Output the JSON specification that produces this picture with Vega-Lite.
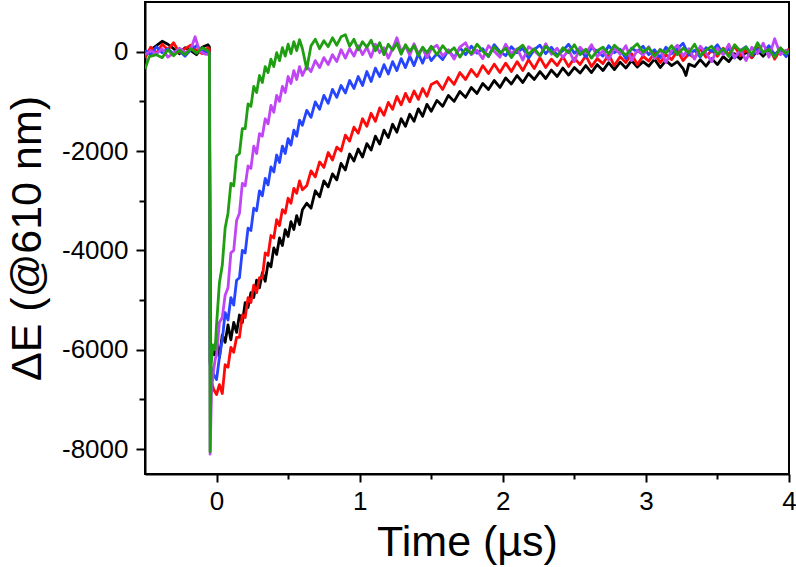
{
  "$schema": "https://vega.github.io/schema/vega-lite/v6.json",
  "width": 644,
  "height": 472,
  "autosize": {"type": "none"},
  "padding": {"left": 145, "top": 2, "right": 7, "bottom": 93},
  "background": "white",
  "config": {
    "font": "Liberation Sans",
    "view": {"stroke": "black", "strokeWidth": 2},
    "axis": {"grid": false, "domainColor": "black", "domainWidth": 2, "tickColor": "black", "tickWidth": 2, "labelColor": "black", "titleColor": "black", "titleFontWeight": "normal", "labelFont": "Liberation Sans", "titleFont": "Liberation Sans"}
  },
  "datasets": {
    "black": [
      {"time":-0.5,"dE":-80},{"time":-0.46,"dE":40},{"time":-0.42,"dE":120},{"time":-0.38,"dE":210},{"time":-0.34,"dE":150},{"time":-0.3,"dE":60},{"time":-0.26,"dE":-40},{"time":-0.22,"dE":80},{"time":-0.18,"dE":20},{"time":-0.14,"dE":-60},{"time":-0.1,"dE":90},{"time":-0.06,"dE":140},{"time":-0.05,"dE":100},{"time":-0.045,"dE":-6250},{"time":-0.03,"dE":-5950},{"time":-0.015,"dE":-6100},
      {"time":0,"dE":-5800},{"time":0.02,"dE":-6150},{"time":0.04,"dE":-5700},{"time":0.06,"dE":-5850},{"time":0.08,"dE":-5500},{"time":0.1,"dE":-5800},{"time":0.12,"dE":-5450},{"time":0.14,"dE":-5650},{"time":0.16,"dE":-5300},{"time":0.18,"dE":-5450},{"time":0.2,"dE":-5050},{"time":0.22,"dE":-5150},{"time":0.24,"dE":-4850},{"time":0.26,"dE":-4950},{"time":0.28,"dE":-4600},{"time":0.3,"dE":-4750},{"time":0.32,"dE":-4450},{"time":0.34,"dE":-4620},{"time":0.36,"dE":-4250},{"time":0.38,"dE":-4330},{"time":0.4,"dE":-3950},{"time":0.42,"dE":-4080},{"time":0.44,"dE":-3750},{"time":0.46,"dE":-3900},{"time":0.48,"dE":-3580},{"time":0.5,"dE":-3720},{"time":0.52,"dE":-3420},{"time":0.54,"dE":-3580},{"time":0.56,"dE":-3300},{"time":0.58,"dE":-3480},{"time":0.6,"dE":-3180},
      {"time":0.63,"dE":-3050},{"time":0.66,"dE":-3150},{"time":0.69,"dE":-2800},{"time":0.72,"dE":-2920},{"time":0.75,"dE":-2600},{"time":0.78,"dE":-2720},{"time":0.81,"dE":-2460},{"time":0.84,"dE":-2580},{"time":0.87,"dE":-2250},{"time":0.9,"dE":-2380},{"time":0.93,"dE":-2060},{"time":0.96,"dE":-2200},{"time":0.99,"dE":-1960},{"time":1.02,"dE":-2120},{"time":1.05,"dE":-1850},{"time":1.08,"dE":-1980},{"time":1.11,"dE":-1700},{"time":1.14,"dE":-1860},{"time":1.17,"dE":-1580},{"time":1.2,"dE":-1730},{"time":1.23,"dE":-1460},{"time":1.26,"dE":-1620},{"time":1.29,"dE":-1350},{"time":1.32,"dE":-1500},{"time":1.35,"dE":-1260},{"time":1.38,"dE":-1400},{"time":1.41,"dE":-1150},{"time":1.44,"dE":-1300},{"time":1.47,"dE":-1060},{"time":1.5,"dE":-1200},
      {"time":1.54,"dE":-980},{"time":1.58,"dE":-1100},{"time":1.62,"dE":-880},{"time":1.66,"dE":-1000},{"time":1.7,"dE":-800},{"time":1.74,"dE":-920},{"time":1.78,"dE":-720},{"time":1.82,"dE":-840},{"time":1.86,"dE":-640},{"time":1.9,"dE":-760},{"time":1.94,"dE":-580},{"time":1.98,"dE":-720},{"time":2.02,"dE":-530},{"time":2.06,"dE":-650},{"time":2.1,"dE":-480},{"time":2.14,"dE":-620},{"time":2.18,"dE":-440},{"time":2.22,"dE":-560},{"time":2.26,"dE":-400},{"time":2.3,"dE":-540},{"time":2.34,"dE":-370},{"time":2.38,"dE":-500},{"time":2.42,"dE":-330},{"time":2.46,"dE":-470},{"time":2.5,"dE":-320},{"time":2.54,"dE":-430},{"time":2.58,"dE":-280},{"time":2.62,"dE":-420},{"time":2.66,"dE":-260},{"time":2.7,"dE":-380},{"time":2.74,"dE":-220},{"time":2.78,"dE":-360},{"time":2.82,"dE":-210},{"time":2.86,"dE":-330},{"time":2.9,"dE":-180},{"time":2.94,"dE":-310},{"time":2.98,"dE":-200},{"time":3.02,"dE":-290},{"time":3.06,"dE":-150},{"time":3.1,"dE":-320},{"time":3.14,"dE":-180},{"time":3.18,"dE":-280},{"time":3.22,"dE":-200},{"time":3.26,"dE":-340},{"time":3.28,"dE":-480},{"time":3.3,"dE":-250},{"time":3.34,"dE":-300},{"time":3.38,"dE":-160},{"time":3.42,"dE":-290},{"time":3.46,"dE":-140},{"time":3.5,"dE":-260},{"time":3.54,"dE":-100},{"time":3.58,"dE":-200},{"time":3.62,"dE":-40},{"time":3.66,"dE":-150},{"time":3.7,"dE":0},{"time":3.74,"dE":-120},{"time":3.78,"dE":30},{"time":3.82,"dE":-90},{"time":3.86,"dE":40},{"time":3.9,"dE":-70},{"time":3.94,"dE":60},{"time":3.98,"dE":-50},{"time":4.0,"dE":10}
    ],
    "red": [
      {"time":-0.5,"dE":-120},{"time":-0.46,"dE":90},{"time":-0.42,"dE":-30},{"time":-0.38,"dE":150},{"time":-0.34,"dE":40},{"time":-0.3,"dE":180},{"time":-0.26,"dE":-20},{"time":-0.22,"dE":60},{"time":-0.18,"dE":130},{"time":-0.14,"dE":30},{"time":-0.1,"dE":-40},{"time":-0.06,"dE":80},{"time":-0.05,"dE":50},{"time":-0.04,"dE":-6600},{"time":-0.02,"dE":-6800},
      {"time":0,"dE":-6900},{"time":0.02,"dE":-6700},{"time":0.04,"dE":-6880},{"time":0.06,"dE":-6300},{"time":0.08,"dE":-6350},{"time":0.1,"dE":-5950},{"time":0.12,"dE":-6050},{"time":0.14,"dE":-5750},{"time":0.16,"dE":-5750},{"time":0.18,"dE":-5300},{"time":0.2,"dE":-5350},{"time":0.22,"dE":-4950},{"time":0.24,"dE":-5050},{"time":0.26,"dE":-4700},{"time":0.28,"dE":-4850},{"time":0.3,"dE":-4550},{"time":0.32,"dE":-4550},{"time":0.34,"dE":-4050},{"time":0.36,"dE":-4100},{"time":0.38,"dE":-3700},{"time":0.4,"dE":-3750},{"time":0.42,"dE":-3380},{"time":0.44,"dE":-3500},{"time":0.46,"dE":-3180},{"time":0.48,"dE":-3250},{"time":0.5,"dE":-2950},{"time":0.52,"dE":-3050},{"time":0.54,"dE":-2750},{"time":0.56,"dE":-2850},{"time":0.58,"dE":-2600},{"time":0.6,"dE":-2780},
      {"time":0.63,"dE":-2700},{"time":0.66,"dE":-2400},{"time":0.69,"dE":-2520},{"time":0.72,"dE":-2220},{"time":0.75,"dE":-2330},{"time":0.78,"dE":-2030},{"time":0.81,"dE":-2180},{"time":0.84,"dE":-1920},{"time":0.87,"dE":-2000},{"time":0.9,"dE":-1680},{"time":0.93,"dE":-1800},{"time":0.96,"dE":-1520},{"time":0.99,"dE":-1640},{"time":1.02,"dE":-1350},{"time":1.05,"dE":-1500},{"time":1.08,"dE":-1240},{"time":1.11,"dE":-1400},{"time":1.14,"dE":-1130},{"time":1.17,"dE":-1280},{"time":1.2,"dE":-1020},{"time":1.23,"dE":-1160},{"time":1.26,"dE":-900},{"time":1.29,"dE":-1070},{"time":1.32,"dE":-840},{"time":1.35,"dE":-1010},{"time":1.38,"dE":-790},{"time":1.41,"dE":-960},{"time":1.44,"dE":-740},{"time":1.47,"dE":-900},{"time":1.5,"dE":-660},
      {"time":1.54,"dE":-600},{"time":1.58,"dE":-760},{"time":1.62,"dE":-520},{"time":1.66,"dE":-660},{"time":1.7,"dE":-420},{"time":1.74,"dE":-560},{"time":1.78,"dE":-360},{"time":1.82,"dE":-500},{"time":1.86,"dE":-280},{"time":1.9,"dE":-440},{"time":1.94,"dE":-250},{"time":1.98,"dE":-420},{"time":2.02,"dE":-230},{"time":2.06,"dE":-400},{"time":2.1,"dE":-200},{"time":2.14,"dE":-380},{"time":2.18,"dE":-160},{"time":2.22,"dE":-340},{"time":2.26,"dE":-120},{"time":2.3,"dE":-320},{"time":2.34,"dE":-150},{"time":2.38,"dE":-280},{"time":2.42,"dE":-100},{"time":2.46,"dE":-300},{"time":2.5,"dE":-130},{"time":2.54,"dE":-260},{"time":2.58,"dE":-80},{"time":2.62,"dE":-300},{"time":2.66,"dE":-140},{"time":2.7,"dE":-240},{"time":2.74,"dE":-60},{"time":2.78,"dE":-280},{"time":2.82,"dE":-100},{"time":2.86,"dE":-220},{"time":2.9,"dE":-40},{"time":2.94,"dE":-260},{"time":2.98,"dE":-90},{"time":3.02,"dE":-190},{"time":3.06,"dE":-30},{"time":3.1,"dE":-220},{"time":3.14,"dE":-60},{"time":3.18,"dE":-160},{"time":3.22,"dE":20},{"time":3.26,"dE":-180},{"time":3.3,"dE":-40},{"time":3.34,"dE":-130},{"time":3.38,"dE":60},{"time":3.42,"dE":-110},{"time":3.46,"dE":30},{"time":3.5,"dE":-90},{"time":3.54,"dE":70},{"time":3.58,"dE":-60},{"time":3.62,"dE":110},{"time":3.66,"dE":-80},{"time":3.7,"dE":40},{"time":3.74,"dE":-120},{"time":3.78,"dE":80},{"time":3.82,"dE":-30},{"time":3.86,"dE":100},{"time":3.9,"dE":-150},{"time":3.94,"dE":50},{"time":3.98,"dE":-40},{"time":4.0,"dE":60}
    ],
    "blue": [
      {"time":-0.5,"dE":30},{"time":-0.46,"dE":-60},{"time":-0.42,"dE":100},{"time":-0.38,"dE":-20},{"time":-0.34,"dE":60},{"time":-0.3,"dE":-50},{"time":-0.26,"dE":20},{"time":-0.22,"dE":-90},{"time":-0.18,"dE":40},{"time":-0.14,"dE":120},{"time":-0.1,"dE":10},{"time":-0.06,"dE":-30},{"time":-0.05,"dE":-20},{"time":-0.045,"dE":-6300},{"time":-0.02,"dE":-6500},
      {"time":0,"dE":-6600},{"time":0.02,"dE":-6150},{"time":0.04,"dE":-5800},{"time":0.06,"dE":-5250},{"time":0.08,"dE":-5400},{"time":0.1,"dE":-4950},{"time":0.12,"dE":-5100},{"time":0.14,"dE":-4600},{"time":0.16,"dE":-4550},{"time":0.18,"dE":-4000},{"time":0.2,"dE":-4050},{"time":0.22,"dE":-3550},{"time":0.24,"dE":-3600},{"time":0.26,"dE":-3150},{"time":0.28,"dE":-3200},{"time":0.3,"dE":-2800},{"time":0.32,"dE":-2900},{"time":0.34,"dE":-2550},{"time":0.36,"dE":-2680},{"time":0.38,"dE":-2320},{"time":0.4,"dE":-2420},{"time":0.42,"dE":-2080},{"time":0.44,"dE":-2230},{"time":0.46,"dE":-1900},{"time":0.48,"dE":-2050},{"time":0.5,"dE":-1750},{"time":0.52,"dE":-1880},{"time":0.54,"dE":-1580},{"time":0.56,"dE":-1700},{"time":0.58,"dE":-1380},{"time":0.6,"dE":-1480},
      {"time":0.63,"dE":-1180},{"time":0.66,"dE":-1320},{"time":0.69,"dE":-1010},{"time":0.72,"dE":-1160},{"time":0.75,"dE":-880},{"time":0.78,"dE":-1040},{"time":0.81,"dE":-760},{"time":0.84,"dE":-920},{"time":0.87,"dE":-680},{"time":0.9,"dE":-830},{"time":0.93,"dE":-580},{"time":0.96,"dE":-740},{"time":0.99,"dE":-500},{"time":1.02,"dE":-680},{"time":1.05,"dE":-400},{"time":1.08,"dE":-600},{"time":1.11,"dE":-330},{"time":1.14,"dE":-500},{"time":1.17,"dE":-260},{"time":1.2,"dE":-450},{"time":1.23,"dE":-200},{"time":1.26,"dE":-380},{"time":1.29,"dE":-140},{"time":1.32,"dE":-320},{"time":1.35,"dE":-90},{"time":1.38,"dE":-280},{"time":1.41,"dE":-40},{"time":1.44,"dE":-230},{"time":1.47,"dE":-10},{"time":1.5,"dE":-180},
      {"time":1.54,"dE":-40},{"time":1.58,"dE":-160},{"time":1.62,"dE":30},{"time":1.66,"dE":-120},{"time":1.7,"dE":80},{"time":1.74,"dE":-60},{"time":1.78,"dE":110},{"time":1.82,"dE":-30},{"time":1.86,"dE":60},{"time":1.9,"dE":-100},{"time":1.94,"dE":140},{"time":1.98,"dE":0},{"time":2.02,"dE":-80},{"time":2.06,"dE":100},{"time":2.1,"dE":-20},{"time":2.14,"dE":70},{"time":2.18,"dE":-130},{"time":2.22,"dE":40},{"time":2.26,"dE":130},{"time":2.3,"dE":-40},{"time":2.34,"dE":90},{"time":2.38,"dE":-70},{"time":2.42,"dE":20},{"time":2.46,"dE":150},{"time":2.5,"dE":-30},{"time":2.54,"dE":60},{"time":2.58,"dE":-110},{"time":2.62,"dE":80},{"time":2.66,"dE":10},{"time":2.7,"dE":-90},{"time":2.74,"dE":120},{"time":2.78,"dE":-20},{"time":2.82,"dE":50},{"time":2.86,"dE":-140},{"time":2.9,"dE":70},{"time":2.94,"dE":0},{"time":2.98,"dE":110},{"time":3.02,"dE":-60},{"time":3.06,"dE":40},{"time":3.1,"dE":-120},{"time":3.14,"dE":90},{"time":3.18,"dE":-40},{"time":3.22,"dE":60},{"time":3.26,"dE":170},{"time":3.3,"dE":-70},{"time":3.34,"dE":30},{"time":3.38,"dE":-110},{"time":3.42,"dE":80},{"time":3.46,"dE":0},{"time":3.5,"dE":140},{"time":3.54,"dE":-50},{"time":3.58,"dE":70},{"time":3.62,"dE":-130},{"time":3.66,"dE":20},{"time":3.7,"dE":100},{"time":3.74,"dE":-80},{"time":3.78,"dE":50},{"time":3.82,"dE":-30},{"time":3.86,"dE":120},{"time":3.9,"dE":-60},{"time":3.94,"dE":40},{"time":3.98,"dE":-100},{"time":4.0,"dE":20}
    ],
    "violet": [
      {"time":-0.5,"dE":-60},{"time":-0.46,"dE":20},{"time":-0.42,"dE":-40},{"time":-0.38,"dE":60},{"time":-0.34,"dE":-110},{"time":-0.3,"dE":-30},{"time":-0.26,"dE":70},{"time":-0.22,"dE":-20},{"time":-0.18,"dE":50},{"time":-0.15,"dE":300},{"time":-0.12,"dE":20},{"time":-0.08,"dE":-50},{"time":-0.05,"dE":-60},{"time":-0.045,"dE":-8100},{"time":-0.035,"dE":-6800},{"time":-0.02,"dE":-6400},{"time":-0.01,"dE":-6200},
      {"time":0,"dE":-6100},{"time":0.02,"dE":-5450},{"time":0.04,"dE":-5350},{"time":0.06,"dE":-4900},{"time":0.08,"dE":-4750},{"time":0.1,"dE":-4050},{"time":0.12,"dE":-4000},{"time":0.14,"dE":-3400},{"time":0.16,"dE":-3250},{"time":0.18,"dE":-2650},{"time":0.2,"dE":-2700},{"time":0.22,"dE":-2300},{"time":0.24,"dE":-2350},{"time":0.26,"dE":-1900},{"time":0.28,"dE":-2050},{"time":0.3,"dE":-1650},{"time":0.32,"dE":-1700},{"time":0.34,"dE":-1350},{"time":0.36,"dE":-1450},{"time":0.38,"dE":-1080},{"time":0.4,"dE":-1220},{"time":0.42,"dE":-880},{"time":0.44,"dE":-1000},{"time":0.46,"dE":-700},{"time":0.48,"dE":-820},{"time":0.5,"dE":-500},{"time":0.52,"dE":-640},{"time":0.54,"dE":-380},{"time":0.56,"dE":-560},{"time":0.58,"dE":-300},{"time":0.6,"dE":-480},
      {"time":0.63,"dE":-290},{"time":0.66,"dE":-400},{"time":0.69,"dE":-180},{"time":0.72,"dE":-320},{"time":0.75,"dE":-120},{"time":0.78,"dE":-260},{"time":0.81,"dE":-60},{"time":0.84,"dE":-200},{"time":0.87,"dE":40},{"time":0.9,"dE":-130},{"time":0.93,"dE":60},{"time":0.96,"dE":-90},{"time":0.99,"dE":120},{"time":1.02,"dE":-60},{"time":1.05,"dE":90},{"time":1.08,"dE":-110},{"time":1.11,"dE":150},{"time":1.14,"dE":-20},{"time":1.17,"dE":80},{"time":1.2,"dE":-130},{"time":1.23,"dE":60},{"time":1.26,"dE":280},{"time":1.29,"dE":0},{"time":1.32,"dE":110},{"time":1.35,"dE":-70},{"time":1.38,"dE":160},{"time":1.41,"dE":-40},{"time":1.44,"dE":70},{"time":1.47,"dE":-120},{"time":1.5,"dE":50},
      {"time":1.54,"dE":130},{"time":1.58,"dE":-90},{"time":1.62,"dE":40},{"time":1.66,"dE":-150},{"time":1.7,"dE":90},{"time":1.74,"dE":180},{"time":1.78,"dE":-60},{"time":1.82,"dE":30},{"time":1.86,"dE":-140},{"time":1.9,"dE":120},{"time":1.94,"dE":10},{"time":1.98,"dE":-110},{"time":2.02,"dE":150},{"time":2.06,"dE":-40},{"time":2.1,"dE":60},{"time":2.14,"dE":-170},{"time":2.18,"dE":100},{"time":2.22,"dE":20},{"time":2.26,"dE":-90},{"time":2.3,"dE":160},{"time":2.34,"dE":-50},{"time":2.38,"dE":70},{"time":2.42,"dE":-120},{"time":2.46,"dE":40},{"time":2.5,"dE":-200},{"time":2.54,"dE":90},{"time":2.58,"dE":-30},{"time":2.62,"dE":140},{"time":2.66,"dE":-100},{"time":2.7,"dE":20},{"time":2.74,"dE":-160},{"time":2.78,"dE":80},{"time":2.82,"dE":-50},{"time":2.86,"dE":120},{"time":2.9,"dE":-180},{"time":2.94,"dE":30},{"time":2.98,"dE":-70},{"time":3.02,"dE":100},{"time":3.06,"dE":-140},{"time":3.1,"dE":50},{"time":3.14,"dE":-220},{"time":3.18,"dE":20},{"time":3.22,"dE":130},{"time":3.26,"dE":-90},{"time":3.3,"dE":60},{"time":3.34,"dE":-150},{"time":3.38,"dE":110},{"time":3.42,"dE":-30},{"time":3.46,"dE":-200},{"time":3.5,"dE":70},{"time":3.54,"dE":-60},{"time":3.58,"dE":150},{"time":3.62,"dE":-120},{"time":3.66,"dE":40},{"time":3.7,"dE":-180},{"time":3.74,"dE":90},{"time":3.78,"dE":-40},{"time":3.82,"dE":170},{"time":3.86,"dE":-110},{"time":3.9,"dE":260},{"time":3.94,"dE":-60},{"time":3.98,"dE":30},{"time":4.0,"dE":-20}
    ],
    "green": [
      {"time":-0.5,"dE":-350},{"time":-0.47,"dE":-100},{"time":-0.42,"dE":-60},{"time":-0.38,"dE":-120},{"time":-0.34,"dE":40},{"time":-0.3,"dE":-80},{"time":-0.26,"dE":30},{"time":-0.22,"dE":-60},{"time":-0.18,"dE":60},{"time":-0.14,"dE":-30},{"time":-0.1,"dE":80},{"time":-0.06,"dE":20},{"time":-0.05,"dE":-40},{"time":-0.045,"dE":-8050},{"time":-0.038,"dE":-6300},{"time":-0.025,"dE":-5900},{"time":-0.01,"dE":-6000},
      {"time":0,"dE":-5500},{"time":0.02,"dE":-4650},{"time":0.04,"dE":-4300},{"time":0.06,"dE":-3550},{"time":0.08,"dE":-3250},{"time":0.1,"dE":-2650},{"time":0.12,"dE":-2700},{"time":0.14,"dE":-2100},{"time":0.16,"dE":-2050},{"time":0.18,"dE":-1550},{"time":0.2,"dE":-1550},{"time":0.22,"dE":-1050},{"time":0.24,"dE":-1100},{"time":0.26,"dE":-700},{"time":0.28,"dE":-820},{"time":0.3,"dE":-480},{"time":0.32,"dE":-620},{"time":0.34,"dE":-300},{"time":0.36,"dE":-420},{"time":0.38,"dE":-150},{"time":0.4,"dE":-300},{"time":0.42,"dE":-20},{"time":0.44,"dE":-180},{"time":0.46,"dE":80},{"time":0.48,"dE":-90},{"time":0.5,"dE":150},{"time":0.52,"dE":-40},{"time":0.54,"dE":200},{"time":0.56,"dE":20},{"time":0.58,"dE":240},{"time":0.6,"dE":60},
      {"time":0.63,"dE":-350},{"time":0.66,"dE":120},{"time":0.69,"dE":250},{"time":0.72,"dE":60},{"time":0.75,"dE":220},{"time":0.78,"dE":100},{"time":0.81,"dE":280},{"time":0.84,"dE":130},{"time":0.87,"dE":300},{"time":0.9,"dE":340},{"time":0.93,"dE":110},{"time":0.96,"dE":250},{"time":0.99,"dE":40},{"time":1.02,"dE":200},{"time":1.05,"dE":90},{"time":1.08,"dE":230},{"time":1.11,"dE":20},{"time":1.14,"dE":180},{"time":1.17,"dE":-60},{"time":1.2,"dE":150},{"time":1.23,"dE":30},{"time":1.26,"dE":170},{"time":1.29,"dE":-50},{"time":1.32,"dE":140},{"time":1.35,"dE":10},{"time":1.38,"dE":120},{"time":1.41,"dE":-80},{"time":1.44,"dE":90},{"time":1.47,"dE":-20},{"time":1.5,"dE":110},
      {"time":1.54,"dE":-60},{"time":1.58,"dE":120},{"time":1.62,"dE":-20},{"time":1.66,"dE":80},{"time":1.7,"dE":-110},{"time":1.74,"dE":60},{"time":1.78,"dE":-40},{"time":1.82,"dE":150},{"time":1.86,"dE":10},{"time":1.9,"dE":-90},{"time":1.94,"dE":100},{"time":1.98,"dE":-30},{"time":2.02,"dE":70},{"time":2.06,"dE":-120},{"time":2.1,"dE":40},{"time":2.14,"dE":130},{"time":2.18,"dE":-50},{"time":2.22,"dE":60},{"time":2.26,"dE":-80},{"time":2.3,"dE":110},{"time":2.34,"dE":0},{"time":2.38,"dE":-100},{"time":2.42,"dE":80},{"time":2.46,"dE":-20},{"time":2.5,"dE":140},{"time":2.54,"dE":-60},{"time":2.58,"dE":50},{"time":2.62,"dE":-130},{"time":2.66,"dE":20},{"time":2.7,"dE":90},{"time":2.74,"dE":-40},{"time":2.78,"dE":130},{"time":2.82,"dE":30},{"time":2.86,"dE":-70},{"time":2.9,"dE":60},{"time":2.94,"dE":160},{"time":2.98,"dE":-10},{"time":3.02,"dE":80},{"time":3.06,"dE":-90},{"time":3.1,"dE":40},{"time":3.14,"dE":-30},{"time":3.18,"dE":120},{"time":3.22,"dE":-60},{"time":3.26,"dE":70},{"time":3.3,"dE":-20},{"time":3.34,"dE":150},{"time":3.38,"dE":-80},{"time":3.42,"dE":30},{"time":3.46,"dE":110},{"time":3.5,"dE":-50},{"time":3.54,"dE":60},{"time":3.58,"dE":-100},{"time":3.62,"dE":140},{"time":3.66,"dE":10},{"time":3.7,"dE":90},{"time":3.74,"dE":-70},{"time":3.78,"dE":180},{"time":3.82,"dE":-20},{"time":3.86,"dE":50},{"time":3.9,"dE":-110},{"time":3.94,"dE":80},{"time":3.98,"dE":-40},{"time":4.0,"dE":30}
    ]
  },
  "encoding": {
    "x": {
      "field": "time", "type": "quantitative",
      "scale": {"domain": [-0.5, 4], "nice": false, "zero": false},
      "axis": {
        "title": "Time (µs)", "titleFontSize": 43, "titlePadding": 7,
        "values": [0, 0.5, 1, 1.5, 2, 2.5, 3, 3.5, 4],
        "labelExpr": "datum.value % 1 === 0 ? '' + datum.value : ''",
        "labelFontSize": 26, "labelPadding": 6, "labelFlush": false, "labelOverlap": false, "labelBound": false,
        "tickSize": {"condition": {"test": "datum.value % 1 === 0", "value": 8}, "value": 5}
      }
    },
    "y": {
      "field": "dE", "type": "quantitative",
      "scale": {"domain": [-8500, 1000], "nice": false, "zero": false},
      "axis": {
        "title": "ΔE (@610 nm)", "titleFontSize": 43, "titlePadding": 12,
        "values": [-8000, -7000, -6000, -5000, -4000, -3000, -2000, -1000, 0],
        "labelExpr": "datum.value % 2000 === 0 ? ((datum.value < 0 ? '-' : '') + abs(datum.value)) : ''",
        "labelFontSize": 26, "labelPadding": 8, "labelOverlap": false, "labelBound": false,
        "tickSize": {"condition": {"test": "datum.value % 2000 === 0", "value": 9}, "value": 6}
      }
    }
  },
  "layer": [
    {"data": {"name": "black"}, "mark": {"type": "line", "color": "#000000", "strokeWidth": 2.8, "strokeJoin": "round", "clip": true}},
    {"data": {"name": "red"}, "mark": {"type": "line", "color": "#ff0a0a", "strokeWidth": 2.8, "strokeJoin": "round", "clip": true}},
    {"data": {"name": "blue"}, "mark": {"type": "line", "color": "#2545ff", "strokeWidth": 2.8, "strokeJoin": "round", "clip": true}},
    {"data": {"name": "violet"}, "mark": {"type": "line", "color": "#bf45f5", "strokeWidth": 2.8, "strokeJoin": "round", "clip": true}},
    {"data": {"name": "green"}, "mark": {"type": "line", "color": "#1f9e12", "strokeWidth": 2.8, "strokeJoin": "round", "clip": true}}
  ]
}
